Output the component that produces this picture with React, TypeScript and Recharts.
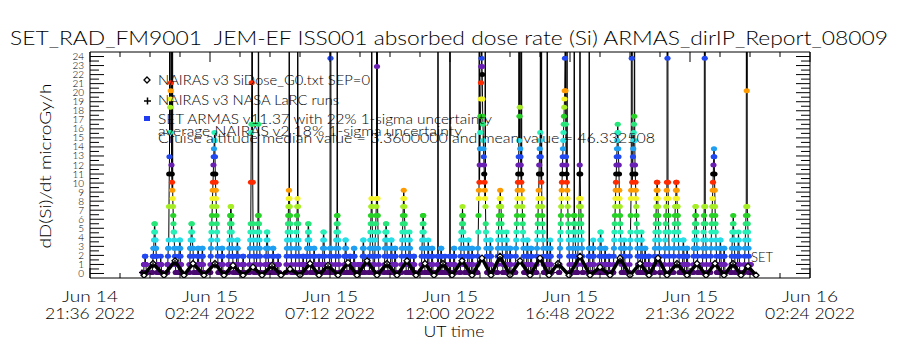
import { ComposedChart, Line, Scatter, XAxis, YAxis } from 'recharts';

const W = 900;
const H = 350;
const PLOT = { left: 90, right: 810, top: 52, bottom: 278 };
const FONT = 'Lato, "DejaVu Sans", sans-serif';
const WEIGHT = 300;

// x axis in hours since Jun 14 21:36 UT
const X_END = 28.8;
const X_MAJOR = [0, 4.8, 9.6, 14.4, 19.2, 24, 28.8];
const X_DAY = ['Jun 14', 'Jun 15', 'Jun 15', 'Jun 15', 'Jun 15', 'Jun 15', 'Jun 16'];
const X_CLOCK = ['21:36 2022', '02:24 2022', '07:12 2022', '12:00 2022', '16:48 2022', '21:36 2022', '02:24 2022'];
const X_TICKS = Array.from({ length: 25 }, (_, i) => +(i * 1.2).toFixed(2));
const Y_TICKS = Array.from({ length: 49 }, (_, i) => i / 2);

// SET ARMAS quantised dose readings (microGy/h); last entry is an off-scale reading
const DOSE_STEPS = [0.1, 1.0, 1.9, 2.8, 3.7, 4.6, 5.5, 6.4, 7.4, 8.3, 9.2, 10.1, 11.0, 12.0, 12.9, 13.8, 14.7, 15.6, 16.5, 17.4, 18.4, 19.3, 20.2, 21.1, 22.0, 22.9, 23.8, 60];
const SAMPLE_STEP_H = 0.01;

// start of each pass (hours) and the readings in it (indexes into DOSE_STEPS)
const passStartHour = [
  2.12, 2.48, 2.76, 3.08, 3.52, 3.96, 4.28, 4.44, 4.80, 5.24, 5.52, 5.84, 6.08, 6.36, 6.64,
  7.00, 7.28, 7.48, 7.84, 8.20, 8.48, 8.64, 8.92, 9.12, 9.28, 9.56, 9.80, 10.16, 10.36, 10.52,
  10.72, 10.88, 11.16, 11.36, 11.76, 12.00, 12.16, 12.44, 12.72, 12.92, 13.24, 13.48, 13.64, 13.88, 14.00,
  14.16, 14.36, 14.52, 14.80, 15.08, 15.24, 15.48, 15.96, 16.28, 16.60, 16.76, 17.00, 17.44, 17.60, 17.84,
  18.24, 18.36, 18.76, 19.28, 19.48, 19.92, 20.08, 20.36, 20.56, 20.72, 20.92, 21.32, 21.56, 22.00, 22.16,
  22.32, 22.56, 22.96, 23.32, 23.68, 23.84, 24.12, 24.48, 24.80, 25.16, 25.32, 25.64, 25.88, 26.16, 26.40,
];
const passSteps: number[][] = [
  [0, 0, 0, 0, 1, 1, 1, 1, 2, 2, 1, 1, 1, 0, 0, 0, 0],
  [0, 0, 1, 1, 2, 2, 3, 3, 4, 5, 6, 6, 5, 4, 4, 3, 3, 2, 2, 1, 1, 0, 0],
  [0, 0, 0, 1, 1, 1, 1, 2, 1, 1, 0, 0, 0],
  [0, 0, 1, 1, 2, 3, 3, 4, 8, 12, 14, 27, 17, 20, 21, 22, 23, 27, 13, 12, 11, 10, 27, 9, 8, 7, 6, 5, 5, 4, 3, 3, 2, 1, 1, 0, 0],
  [0, 0, 1, 1, 2, 3, 3, 4, 4, 3, 2, 1, 1, 0, 0],
  [0, 0, 1, 1, 2, 3, 3, 4, 4, 5, 6, 6, 5, 4, 4, 3, 3, 2, 1, 1, 0, 0],
  [0, 0, 1, 2, 3, 3, 2, 1, 1, 0, 0],
  [0, 0, 1, 1, 2, 3, 3, 2, 1, 0, 0],
  [0, 0, 1, 2, 3, 4, 5, 6, 7, 8, 9, 10, 11, 12, 13, 14, 15, 16, 17, 16, 14, 12, 11, 10, 9, 8, 7, 6, 5, 4, 3, 2, 1, 1, 0, 0],
  [0, 0, 1, 2, 3, 3, 2, 1, 0, 0],
  [0, 0, 1, 1, 2, 3, 4, 5, 6, 7, 7, 8, 8, 7, 6, 5, 4, 3, 2, 2, 1, 1, 0, 0],
  [0, 0, 1, 2, 3, 4, 4, 3, 2, 1, 0, 0],
  [0, 0, 1, 1, 2, 2, 1, 1, 0, 0],
  [0, 0, 1, 2, 3, 4, 5, 6, 11, 17, 18, 23, 27, 27, 18, 11, 6, 5, 4, 3, 2, 1, 0, 0],
  [0, 0, 1, 2, 3, 4, 5, 6, 7, 18, 27, 7, 6, 5, 4, 3, 2, 1, 0, 0],
  [0, 0, 1, 1, 2, 3, 3, 4, 5, 5, 4, 3, 3, 2, 1, 1, 0, 0],
  [0, 0, 1, 2, 3, 3, 2, 1, 0, 0],
  [0, 0, 1, 1, 2, 2, 1, 1, 0, 0],
  [0, 0, 1, 2, 3, 4, 4, 5, 6, 7, 8, 9, 10, 27, 9, 8, 7, 6, 5, 4, 3, 2, 1, 0, 0],
  [0, 0, 1, 2, 3, 4, 5, 6, 7, 8, 9, 27, 8, 6, 4, 3, 2, 1, 0, 0],
  [0, 0, 1, 1, 2, 2, 1, 0, 0],
  [0, 0, 1, 2, 2, 3, 3, 4, 5, 6, 6, 5, 4, 4, 3, 3, 2, 1, 1, 0, 0],
  [0, 0, 1, 2, 3, 3, 2, 1, 0, 0],
  [0, 0, 1, 1, 2, 1, 1, 0, 0],
  [0, 0, 1, 2, 3, 4, 5, 5, 4, 3, 2, 1, 0, 0],
  [0, 0, 1, 2, 3, 27, 26, 27, 3, 2, 1, 0, 0],
  [0, 0, 1, 2, 3, 4, 5, 6, 7, 27, 7, 6, 5, 4, 3, 2, 1, 0, 0],
  [0, 0, 1, 2, 2, 3, 4, 4, 3, 2, 1, 1, 0, 0],
  [0, 0, 1, 1, 2, 2, 1, 0, 0],
  [0, 0, 1, 2, 3, 3, 2, 1, 0, 0],
  [0, 0, 1, 1, 1, 1, 0, 0],
  [0, 0, 1, 2, 3, 4, 4, 3, 2, 1, 0, 0],
  [0, 0, 1, 2, 3, 4, 5, 6, 7, 8, 9, 27, 8, 6, 4, 3, 2, 1, 0, 0],
  [0, 0, 1, 2, 3, 4, 5, 6, 7, 8, 9, 27, 25, 27, 9, 7, 5, 3, 2, 1, 0, 0],
  [0, 0, 1, 2, 3, 4, 5, 5, 6, 6, 5, 4, 3, 2, 1, 1, 0, 0],
  [0, 0, 1, 2, 3, 4, 4, 3, 2, 1, 0, 0],
  [0, 0, 1, 2, 3, 3, 2, 1, 0, 0],
  [0, 0, 1, 2, 3, 4, 5, 6, 7, 8, 9, 10, 9, 8, 7, 6, 5, 4, 3, 2, 1, 0, 0],
  [0, 0, 1, 2, 3, 4, 5, 4, 3, 2, 1, 0, 0],
  [0, 0, 1, 2, 2, 1, 0, 0],
  [0, 0, 1, 2, 3, 4, 5, 6, 7, 7, 6, 5, 4, 3, 2, 1, 0, 0],
  [0, 0, 1, 2, 3, 4, 3, 2, 1, 0, 0],
  [0, 0, 1, 2, 3, 3, 2, 1, 0, 0],
  [0, 0, 1, 2, 27, 2, 1, 0, 0],
  [0, 0, 1, 2, 3, 3, 2, 1, 0, 0],
  [0, 0, 1, 1, 2, 1, 1, 0, 0],
  [0, 0, 1, 2, 27, 2, 1, 0, 0],
  [0, 0, 1, 2, 3, 3, 2, 1, 0, 0],
  [0, 0, 1, 2, 3, 4, 5, 5, 6, 7, 8, 7, 6, 5, 4, 3, 3, 2, 1, 1, 0, 0],
  [0, 0, 1, 2, 3, 4, 4, 3, 2, 1, 0, 0],
  [0, 0, 1, 2, 3, 3, 2, 1, 0, 0],
  [0, 0, 1, 2, 3, 5, 7, 9, 10, 27, 11, 13, 15, 17, 19, 21, 23, 25, 26, 27, 25, 24, 21, 19, 18, 16, 15, 14, 13, 12, 11, 10, 9, 27, 8, 6, 5, 4, 3, 2, 1, 0, 0],
  [0, 0, 1, 2, 3, 4, 4, 3, 2, 1, 0, 0],
  [0, 0, 1, 2, 3, 4, 5, 6, 7, 8, 8, 9, 9, 10, 9, 8, 8, 7, 6, 5, 4, 3, 2, 1, 0, 0],
  [0, 0, 1, 2, 3, 4, 5, 4, 3, 2, 1, 0, 0],
  [0, 0, 1, 2, 3, 3, 2, 1, 0, 0],
  [0, 0, 1, 2, 3, 4, 5, 6, 7, 8, 9, 10, 11, 12, 13, 14, 27, 16, 19, 20, 27, 15, 14, 13, 12, 11, 27, 10, 9, 8, 7, 6, 5, 4, 3, 2, 1, 0, 0],
  [0, 0, 1, 2, 3, 4, 4, 3, 2, 1, 0, 0],
  [0, 0, 1, 2, 3, 3, 2, 1, 0, 0],
  [0, 0, 1, 2, 3, 4, 5, 6, 7, 8, 9, 10, 12, 13, 14, 15, 16, 17, 27, 14, 12, 11, 27, 9, 8, 7, 6, 5, 4, 3, 2, 1, 0, 0],
  [0, 0, 1, 2, 3, 27, 3, 2, 1, 0, 0],
  [0, 0, 1, 2, 3, 4, 3, 2, 1, 0, 0],
  [0, 0, 1, 2, 3, 4, 5, 6, 7, 8, 9, 10, 11, 12, 13, 14, 15, 16, 17, 18, 19, 20, 21, 22, 26, 27, 22, 18, 14, 13, 12, 11, 27, 10, 9, 8, 7, 6, 5, 4, 3, 2, 1, 0, 0],
  [0, 0, 1, 2, 3, 4, 5, 6, 7, 27, 7, 6, 5, 4, 3, 2, 1, 0, 0],
  [0, 0, 1, 2, 3, 4, 5, 6, 8, 9, 12, 13, 27, 12, 9, 8, 7, 6, 5, 4, 3, 2, 1, 0, 0],
  [0, 0, 1, 2, 3, 27, 3, 2, 1, 0, 0],
  [0, 0, 1, 2, 3, 4, 3, 2, 1, 0, 0],
  [0, 0, 1, 2, 3, 4, 5, 5, 4, 3, 2, 1, 0, 0],
  [0, 0, 1, 2, 3, 3, 2, 1, 0, 0],
  [0, 0, 1, 1, 2, 2, 1, 0, 0],
  [0, 0, 1, 2, 3, 4, 5, 6, 7, 8, 9, 10, 11, 12, 13, 14, 15, 16, 17, 18, 17, 15, 14, 13, 12, 10, 9, 8, 7, 6, 5, 4, 3, 2, 1, 0, 0],
  [0, 0, 1, 2, 3, 4, 3, 2, 1, 0, 0],
  [0, 0, 1, 2, 3, 4, 5, 7, 9, 10, 27, 26, 27, 11, 12, 13, 14, 15, 16, 17, 18, 19, 27, 16, 13, 12, 11, 10, 9, 8, 7, 6, 5, 4, 3, 2, 1, 0, 0],
  [0, 0, 1, 2, 3, 4, 5, 4, 3, 2, 1, 0, 0],
  [0, 0, 1, 2, 3, 3, 2, 1, 0, 0],
  [0, 0, 1, 2, 2, 1, 0, 0],
  [0, 0, 1, 2, 3, 4, 5, 6, 7, 8, 9, 10, 11, 11, 10, 9, 8, 7, 6, 5, 4, 3, 2, 1, 0, 0],
  [0, 0, 1, 2, 3, 4, 5, 6, 7, 8, 9, 10, 11, 27, 26, 27, 11, 9, 7, 5, 3, 2, 1, 0, 0],
  [0, 0, 1, 2, 3, 4, 5, 6, 7, 8, 8, 9, 10, 11, 11, 10, 9, 8, 8, 7, 6, 5, 4, 3, 2, 1, 0, 0],
  [0, 0, 1, 2, 3, 4, 4, 3, 2, 1, 0, 0],
  [0, 0, 1, 2, 3, 3, 2, 1, 0, 0],
  [0, 0, 1, 2, 3, 3, 4, 5, 6, 7, 8, 8, 7, 6, 5, 4, 3, 3, 2, 1, 0, 0],
  [0, 0, 1, 2, 3, 4, 5, 6, 7, 8, 27, 26, 27, 8, 6, 4, 3, 2, 1, 0, 0],
  [0, 0, 1, 2, 3, 4, 5, 6, 7, 8, 9, 10, 11, 12, 13, 14, 15, 14, 12, 10, 8, 7, 6, 5, 4, 3, 2, 1, 0, 0],
  [0, 0, 1, 2, 3, 4, 4, 3, 2, 1, 0, 0],
  [0, 0, 1, 2, 3, 3, 2, 1, 0, 0],
  [0, 0, 1, 2, 3, 4, 5, 5, 6, 7, 6, 5, 4, 4, 3, 2, 1, 0, 0],
  [0, 0, 1, 2, 3, 4, 5, 4, 3, 2, 1, 0, 0],
  [0, 0, 1, 2, 3, 4, 5, 6, 7, 8, 27, 22, 27, 8, 7, 6, 5, 4, 3, 2, 1, 0, 0],
  [0, 0, 1, 1, 0, 0, 0],
];

// NAIRAS v3 SiDose model, orbit humps
const nairasHour = [
  2.16, 2.52, 2.96, 3.40, 3.76, 4.12, 4.56, 5.00, 5.36, 5.72, 6.12, 6.52, 6.88, 7.28, 7.64, 8.00, 8.40,
  8.80, 9.16, 9.52, 9.92, 10.32, 10.68, 11.08, 11.48, 11.88, 12.28, 12.68, 13.04, 13.40, 13.76, 14.12, 14.48,
  14.88, 15.28, 15.68, 16.04, 16.40, 16.80, 17.20, 17.60, 18.00, 18.36, 18.72, 19.16, 19.60, 20.00, 20.40, 20.80,
  21.20, 21.60, 22.00, 22.36, 22.72, 23.08, 23.48, 23.88, 24.28, 24.64, 25.00, 25.36, 25.72, 26.04, 26.32, 26.64,
];
const nairasDose = [
  -0.2, 1.1, -0.2, 1.4, -0.2, 1.1, -0.2, 1.1, -0.2, 0.9, -0.2, 0.7, -0.2, 0.9, -0.2, 0.5, -0.2,
  1.1, -0.2, 0.9, -0.2, 1.2, -0.2, 1.4, -0.2, 1.1, -0.2, 1.4, -0.2, 1.1, -0.2, 1.1, -0.2,
  1.4, -0.2, 1.7, -0.2, 1.9, -0.2, 1.4, -0.2, 1.7, -0.2, 1.1, -0.2, 1.9, -0.2, 0.7, -0.2,
  1.7, -0.2, 1.1, -0.2, 1.7, -0.2, 1.1, -0.2, 1.1, -0.2, 1.1, -0.2, 1.1, -0.2, 0.8, -0.2,
];

// NAIRAS v3 NASA LaRC runs
const larcHour = [2.08, 2.52, 3.40, 5.00, 7.28, 9.52, 11.88, 14.12, 16.40, 18.72, 21.20, 23.48, 25.72];
const larcDose = [0.1, 0.9, 1.2, 0.9, 0.7, 0.7, 0.9, 0.9, 1.6, 0.9, 1.4, 0.9, 0.9];

const RAINBOW = ['#000000', '#6a1fb4', '#2248f2', '#1f9ff2', '#27dfe6', '#27f0b8', '#27e67a', '#27d227', '#a6ee24', '#f2f224', '#ff9a00', '#ff2a00'];
const stepColor = (s: number) => (s === 0 ? '#4a0a72' : RAINBOW[s % 12]);

const setData = passStartHour.flatMap((h, i) =>
  passSteps[i].map((s, j) => ({ hour: +(h + j * SAMPLE_STEP_H).toFixed(3), dose: DOSE_STEPS[s], step: s })),
);
const nairasData = nairasHour.map((hour, i) => ({ hour, dose: nairasDose[i] }));
const larcData = larcHour.map((hour, i) => ({ hour, dose: larcDose[i] }));

const majorIndex = (v: number) => X_MAJOR.findIndex(m => Math.abs(m - v) < 1e-6);

function BottomTick({ x, payload }: any) {
  const i = majorIndex(payload.value);
  return (
    <g>
      <line x1={x} x2={x} y1={PLOT.bottom} y2={PLOT.bottom - (i >= 0 ? 10 : 5)} stroke="#000" />
      {i >= 0 && (
        <g fontFamily={FONT} fontWeight={WEIGHT} fontSize={15} fill="#000" textAnchor="middle">
          <text x={x} y={302} textLength={56} lengthAdjust="spacingAndGlyphs">{X_DAY[i]}</text>
          <text x={x} y={319} textLength={90} lengthAdjust="spacingAndGlyphs">{X_CLOCK[i]}</text>
        </g>
      )}
    </g>
  );
}

function TopTick({ x, payload }: any) {
  const i = majorIndex(payload.value);
  return <line x1={x} x2={x} y1={PLOT.top} y2={PLOT.top + (i >= 0 ? 10 : 5)} stroke="#000" />;
}

function LeftTick({ y, payload }: any) {
  const v = payload.value;
  const major = Number.isInteger(v);
  return (
    <g>
      <line x1={PLOT.left} x2={PLOT.left + (major ? 14 : 9)} y1={y} y2={y} stroke="#000" />
      {major && (
        <text x={84} y={y + 3.5} textAnchor="end" fontFamily={FONT} fontWeight={WEIGHT} fontSize={10} fill="#000">{v}</text>
      )}
    </g>
  );
}

function RightTick({ y, payload }: any) {
  const major = Number.isInteger(payload.value);
  return <line x1={PLOT.right - (major ? 14 : 9)} x2={PLOT.right} y1={y} y2={y} stroke="#000" />;
}

function SetDot(props: any) {
  const { cx, cy, payload, index } = props;
  if (cx == null || cy == null) return <g key={`s-${index}`} />;
  return <ellipse key={`s-${index}`} cx={cx} cy={cy} rx={3.1} ry={2.5} fill={stepColor(payload.step)} />;
}

function DiamondShape({ cx, cy }: any) {
  return <path d={`M${cx},${cy - 3}L${cx + 3},${cy}L${cx},${cy + 3}L${cx - 3},${cy}Z`} fill="#fff" stroke="#000" strokeWidth={1.3} />;
}

function PlusShape({ cx, cy }: any) {
  return <path d={`M${cx - 3},${cy}H${cx + 3}M${cx},${cy - 3}V${cy + 3}`} stroke="#000" strokeWidth={1.5} />;
}

export default function App() {
  const axisLine = { stroke: '#000', strokeWidth: 1 };
  return (
    <div style={{ position: 'absolute', left: 0, top: 0, width: W, height: H, background: '#fff' }}>
      <ComposedChart width={W} height={H} margin={{ top: 0, right: 0, bottom: 0, left: 0 }}>
        <XAxis xAxisId="b" type="number" dataKey="hour" domain={[0, X_END]} allowDataOverflow ticks={X_TICKS}
          interval={0} height={72} axisLine={axisLine} tickLine={false} tick={(p: any) => <BottomTick {...p} />} />
        <XAxis xAxisId="t" orientation="top" type="number" dataKey="hour" domain={[0, X_END]} allowDataOverflow
          ticks={X_TICKS} interval={0} height={52} axisLine={axisLine} tickLine={false} tick={(p: any) => <TopTick {...p} />} />
        <YAxis yAxisId="l" type="number" dataKey="dose" domain={[-0.5, 24.5]} allowDataOverflow ticks={Y_TICKS}
          interval={0} width={90} axisLine={axisLine} tickLine={false} tick={(p: any) => <LeftTick {...p} />} />
        <YAxis yAxisId="r" orientation="right" type="number" dataKey="dose" domain={[-0.5, 24.5]} allowDataOverflow
          ticks={Y_TICKS} interval={0} width={90} axisLine={axisLine} tickLine={false} tick={(p: any) => <RightTick {...p} />} />
        <Line xAxisId="b" yAxisId="l" data={setData} dataKey="dose" type="linear" stroke="#000" strokeWidth={1}
          dot={SetDot} activeDot={false} isAnimationActive={false} />
        <Scatter xAxisId="b" yAxisId="l" data={nairasData} dataKey="dose" line={{ stroke: '#000', strokeWidth: 3.5 }}
          lineType="joint" shape={DiamondShape} isAnimationActive={false} />
        <Scatter xAxisId="b" yAxisId="l" data={larcData} dataKey="dose" shape={PlusShape} isAnimationActive={false} />
      </ComposedChart>
      <svg width={W} height={H} style={{ position: 'absolute', left: 0, top: 0, pointerEvents: 'none' }}
        fontFamily={FONT} fontWeight={WEIGHT} fill="#000">
        <text x={10} y={45} fontSize={20} textLength={878} lengthAdjust="spacingAndGlyphs" style={{ whiteSpace: 'pre' }}>
          SET_RAD_FM9001  JEM-EF ISS001 absorbed dose rate (Si) ARMAS_dirIP_Report_08009
        </text>
        <text transform="translate(51,166) rotate(-90)" textAnchor="middle" fontSize={16} textLength={165}
          lengthAdjust="spacingAndGlyphs">dD(Si)/dt microGy/h</text>
        <text x={454} y={337} textAnchor="middle" fontSize={16} textLength={61} lengthAdjust="spacingAndGlyphs">UT time</text>
        <text x={751} y={262} fontSize={14} textLength={22} lengthAdjust="spacingAndGlyphs">SET</text>

        <path d="M147,77L150,80L147,83L144,80Z" fill="none" stroke="#000" strokeWidth={1.3} />
        <path d="M144,101H151M147.5,97.5V104.5" stroke="#000" strokeWidth={1.5} />
        <rect x={144} y={116} width={6} height={5} fill="#1f3cf0" />
        <g fontSize={14}>
          <text x={158} y={85} textLength={212} lengthAdjust="spacingAndGlyphs">NAIRAS v3 SiDose_G0.txt SEP=0</text>
          <text x={158} y={105} textLength={181} lengthAdjust="spacingAndGlyphs">NAIRAS v3 NASA LaRC runs</text>
          <text x={158} y={124} textLength={334} lengthAdjust="spacingAndGlyphs">SET ARMAS v11.37 with 22% 1-sigma uncertainty</text>
          <text x={158} y={136} textLength={304} lengthAdjust="spacingAndGlyphs">average NAIRAS v2 18% 1-sigma uncertainty</text>
          <text x={158} y={143} textLength={497} lengthAdjust="spacingAndGlyphs">Cruise altitude median value = 3.3600000 and mean value = 46.332508</text>
        </g>
      </svg>
    </div>
  );
}
